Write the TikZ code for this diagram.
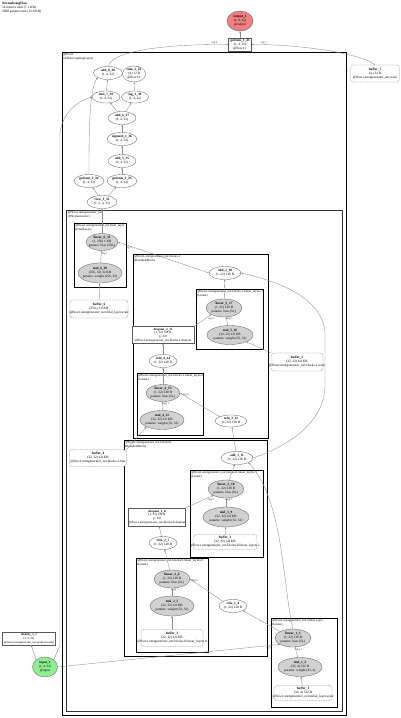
\documentclass[tikz,border=0pt]{standalone}
\usepackage{fontspec}
\setmainfont{Liberation Serif}
\usetikzlibrary{shapes.geometric,arrows.meta}
\newcommand\zl[1]{\makebox[0pt]{#1}}
\newcommand\ttwo[2]{\zl{\textbf{#1}}\\\zl{#2}}
\newcommand\tthree[3]{\zl{\textbf{#1}}\\\zl{#2}\\\zl{#3}}
\newcommand\tfour[4]{\zl{\textbf{#1}}\\\zl{#2}\\\zl{#3}\\\zl{#4}}
\tikzset{
 nf/.style={font=\fontsize{3.4}{4.1}\selectfont},
 base/.style={nf, inner sep=0pt, outer sep=0pt, align=center},
 sz/.style 2 args={minimum width=#1pt, minimum height=#2pt},
 op/.style={base, ellipse, draw=black!65, line width=0.3pt, fill=white},
 opp/.style={op, fill=black!18},
 rbox/.style={base, rectangle, draw=black!65, line width=0.3pt, fill=white},
 bufn/.style={base, rectangle, rounded corners=3pt, draw=black!55, line width=0.3pt, dash pattern=on 1pt off 0.7pt, fill=white},
 edge/.style={draw=black!45, line width=0.35pt, -{Stealth[length=2.2pt,width=1.8pt]}},
 elab/.style={font=\fontsize{2.8}{3}\selectfont, inner sep=0.5pt, text=black!80},
 clus/.style={draw=black, line width=0.6pt},
 clab/.style={anchor=north west, align=left, inner sep=0.6pt, font=\fontsize{3.2}{3.7}\selectfont},
}
\begin{document}
\begin{tikzpicture}[x=1pt,y=-1pt]
\fill[white] (0,0) rectangle (400,718);
\useasboundingbox (0,0) rectangle (400,718);

% header
\node[anchor=north west, align=left, inner sep=0pt, font=\fontsize{3.4}{4}\selectfont] (hdr) at (2,2)
 {\textbf{NormalizingFlow}\\32 tensors total (7.1 KB)\\3068 params total (12.9 KB)};

% clusters
\draw[clus, line width=1pt] (62,52) rectangle (346,715);
\node[clab] (cflow) at (62.5,52.5) {@flow1\\(AffineCouplingLayer)};
\draw[clus, line width=0.8pt, draw=black!80] (66.5,210) rectangle (342,711);
\node[clab] (cunet) at (67,210.5) {@flow1.unetgenerator\_net\\(UNetGenerator)};
\draw[clus] (74,223) rectangle (126,287);
\node[clab] (cfin) at (74.5,223.5) {@flow1.unetgenerator\_net.final\_layer\\(FinalLayer)};
\draw[clus] (133,254) rectangle (268,438);
\node[clab] (cb1) at (133.5,254.5) {@flow1.unetgenerator\_net.blocks.1\\(ResidualBlock)};
\draw[clus] (196,289) rectangle (263,349);
\node[clab] (cb1l1) at (196.5,289.5) {@flow1.unetgenerator\_net.blocks.1.linear\_layers.1\\(Linear)};
\draw[clus] (137,373) rectangle (203,435);
\node[clab] (cb1l0) at (137.5,373.5) {@flow1.unetgenerator\_net.blocks.1.linear\_layers.0\\(Linear)};
\draw[clus] (124,440) rectangle (267,656);
\node[clab] (cb0) at (124.5,440.5) {@flow1.unetgenerator\_net.blocks.0\\(ResidualBlock)};
\draw[clus] (190,470) rectangle (263,557);
\node[clab] (cb0l1) at (190.5,470.5) {@flow1.unetgenerator\_net.blocks.0.linear\_layers.1\\(Linear)};
\draw[clus] (136,558) rectangle (208,652);
\node[clab] (cb0l0) at (136.5,558.5) {@flow1.unetgenerator\_net.blocks.0.linear\_layers.0\\(Linear)};
\draw[clus] (271,618) rectangle (337,707);
\node[clab] (cinit) at (271.5,618.5) {@flow1.unetgenerator\_net.initial\_layer\\(Linear)};

% nodes top
\node[op, fill={rgb,255:red,240;green,128;blue,128}, sz={26}{20}] (out1) at (240,21) {\tthree{output\_1}{(1, 4, 32)}{@output}};
\node[rbox, sz={23}{13}] (gi143) at (240,44.5) {\tthree{getitem\_1\_43}{(1, 4, 32)}{@flow1:1}};
\node[bufn, sz={49}{17}] (buf7) at (375,73.5) {\tthree{buffer\_7}{(4,) 32 B}{@flow1.unetgenerator\_net.scale}};

\node[op, sz={29}{13}] (add838) at (108,73) {\ttwo{add\_8\_38}{(1, 4, 32)}};
\node[op, sz={23}{16}] (sum122) at (134,74) {\tthree{sum\_1\_22}{(4,) 12 B}{@flow1:1}};
\node[op, sz={28}{12}] (mul729) at (106,97) {\ttwo{mul\_7\_29}{(1, 4, 32)}};
\node[op, sz={27}{12}] (log130) at (135,97) {\ttwo{log\_1\_30}{(1, 4, 32)}};
\node[op, sz={28}{13}] (add637) at (122,118) {\ttwo{add\_6\_37}{(1, 4, 32)}};
\node[op, sz={30}{13}] (sig136) at (122,139) {\ttwo{sigmoid\_1\_36}{(1, 4, 32)}};
\node[op, sz={28}{13}] (add535) at (122,161) {\ttwo{add\_5\_35}{(1, 4, 32)}};
\node[op, sz={30}{13}] (gi234) at (89,181) {\ttwo{getitem\_2\_34}{(1, 4, 32)}};
\node[op, sz={30}{13}] (gi133) at (122,181) {\ttwo{getitem\_1\_33}{(1, 4, 32)}};
\node[op, sz={30}{13}] (view132) at (102,202) {\ttwo{view\_1\_32}{(1, 2, 4, 32)}};

% final layer
\node[opp, sz={32}{17}] (lin631) at (102,242) {\tthree{linear\_6\_31}{(1, 256) 1 KB}{params: bias (256,)}};
\node[opp, sz={44}{20}] (mul630) at (100,273) {\tthree{mul\_6\_30}{(256, 32) 32 KB}{params: weight (256, 32)}};
\node[bufn, sz={58}{18}] (buf6) at (99,309) {\tthree{buffer\_6}{(256,) 1.0 KB}{@flow1.unetgenerator\_net.final\_layer.scale}};

% block 1
\node[op, sz={32}{13}] (add218) at (225,273) {\ttwo{add\_2\_18}{(1, 32) 128 B}};
\node[opp, sz={36}{18}] (lin517) at (224,308) {\tthree{linear\_5\_17}{(1, 32) 128 B}{params: bias (32,)}};
\node[opp, sz={46}{19}] (mul516) at (230,335) {\tthree{mul\_5\_16}{(32, 32) 4.0 KB}{params: weight (32, 32)}};
\node[rbox, sz={62}{17}, font=\fontsize{3.2}{3.8}\selectfont] (drop215) at (163,335) {\tfour{dropout\_2\_15}{(1, 32) 128 B}{p: 0.0}{@flow1.unetgenerator\_net.blocks.1.dropout}};
\node[op, sz={28}{13}] (relu414) at (163,361) {\ttwo{relu\_4\_14}{(1, 32) 128 B}};
\node[bufn, sz={52}{18}] (buf5) at (297,362) {\tthree{buffer\_5}{(32, 32) 4.0 KB}{@flow1.unetgenerator\_net.blocks.1.scale}};
\node[opp, sz={34}{17}] (lin413) at (163,393) {\tthree{linear\_4\_13}{(1, 32) 128 B}{params: bias (32,)}};
\node[opp, sz={44}{19}] (mul412) at (162,420) {\tthree{mul\_4\_12}{(32, 32) 4.0 KB}{params: weight (32, 32)}};
\node[op, sz={32}{12}] (relu312) at (231,421) {\ttwo{relu\_3\_12}{(1, 32) 128 B}};
\node[bufn, sz={57}{17}] (buf4) at (98,458) {\tthree{buffer\_4}{(32, 32) 4.0 KB}{@flow1.unetgenerator\_net.blocks.1.bias}};

% block 0
\node[op, sz={32}{13}] (add111) at (237,458) {\ttwo{add\_1\_11}{(1, 32) 128 B}};
\node[opp, sz={36}{18}] (lin310) at (226,489) {\tthree{linear\_3\_10}{(1, 32) 128 B}{params: bias (32,)}};
\node[opp, sz={46}{20}] (mul39) at (226,517) {\tthree{mul\_3\_9}{(32, 32) 4.0 KB}{params: weight (32, 32)}};
\node[bufn, sz={64}{15}] (buf3) at (225,542) {\tthree{buffer\_3}{(32, 32) 4.0 KB}{@flow1.unetgenerator\_net.blocks.0.linear\_layers.1}};
\node[rbox, sz={57}{18}, font=\fontsize{3.2}{3.8}\selectfont] (drop18) at (157,517) {\tfour{dropout\_1\_8}{(1, 32) 128 B}{p: 0.0}{@flow1.unetgenerator\_net.blocks.0.dropout}};
\node[op, sz={28}{13}] (relu27) at (163,543) {\ttwo{relu\_2\_7}{(1, 32) 128 B}};
\node[opp, sz={36}{18}] (lin26) at (172,579) {\tthree{linear\_2\_6}{(1, 32) 128 B}{params: bias (32,)}};
\node[opp, sz={44}{20}] (mul25) at (172,606) {\tthree{mul\_2\_5}{(32, 32) 4.0 KB}{params: weight (32, 32)}};
\node[bufn, sz={62}{17}] (buf2) at (172,638) {\tthree{buffer\_2}{(32, 32) 4.0 KB}{@flow1.unetgenerator\_net.blocks.0.linear\_layers.0}};
\node[op, sz={28}{13}] (relu14) at (233,606) {\ttwo{relu\_1\_4}{(1, 32) 128 B}};

% initial layer
\node[opp, sz={36}{18}] (lin13) at (293,638) {\tthree{linear\_1\_3}{(1, 32) 128 B}{params: bias (32,)}};
\node[opp, sz={44}{19}] (mul12) at (300,667) {\tthree{mul\_1\_2}{(32, 4) 512 B}{params: weight (32, 4)}};
\node[bufn, sz={58}{15}] (buf1) at (303,693) {\tthree{buffer\_1}{(32, 4) 512 B}{@flow1.unetgenerator\_net.initial\_layer.scale}};

% input side
\node[rbox, sz={53}{13}, font=\fontsize{3}{3.9}\selectfont] (id11) at (29,638.5) {\tthree{identity\_1\_1}{(1, 4, 32)}{@flow1.unetgenerator\_net.preprocessing}};
\node[op, fill={rgb,255:red,144;green,238;blue,144}, sz={25}{20}] (in1) at (45,667) {\tthree{input\_1}{(1, 4, 32)}{@input}};

% edges
\draw[edge] (gi143) -- (out1);
\draw[edge] (add838.north) .. controls (112,50) and (170,44) .. (gi143.west) node[elab, pos=0.92, above] {arg 0};
\draw[edge] (buf7.north) .. controls (360,52) and (290,44) .. (gi143.east) node[elab, pos=0.9, above] {arg 1};
\draw[edge] (mul729) -- (add838);
\draw[edge] (gi234.north) .. controls (89,120) and (90,88) .. (add838.south west);
\draw[edge] (add637) -- (mul729);
\draw[edge] (add637) -- (log130);
\draw[edge] (log130) -- (sum122);
\draw[edge] (sig136) -- (add637);
\draw[edge] (add535) -- (sig136);
\draw[edge] (gi133) -- (add535);
\draw[edge] (view132) -- (gi234);
\draw[edge] (view132) -- (gi133);
\draw[edge] (lin631) -- (view132);
\draw[edge] (mul630) -- (lin631) node[elab, pos=0.75, right] {arg 1};
\draw[edge] (buf6) -- (mul630);
\draw[edge] (add218.west) -- (lin631.east) node[elab, pos=0.88, below] {arg 0};

\draw[edge] (lin517) -- (add218);
\draw[edge] (mul516) -- (lin517) node[elab, pos=0.75, right] {arg 1};
\draw[edge] (buf5.north west) -- (mul516.south east);
\draw[edge] (drop215.north east) -- (lin517.south west) node[elab, pos=0.8, below right] {arg 0};
\draw[edge] (relu414) -- (drop215);
\draw[edge] (lin413) -- (relu414);
\draw[edge] (mul412) -- (lin413) node[elab, pos=0.75, right] {arg 1};
\draw[edge] (buf4.north east) -- (mul412.south west);
\draw[edge] (relu312.north west) -- (lin413.east) node[elab, pos=0.85, above] {arg 0};
\draw[edge] (add111) -- (relu312);
\draw[edge] (add111.east) .. controls (292,445) and (325,420) .. (325,385) -- (325,335) .. controls (325,300) and (282,282) .. (add218.east);

\draw[edge] (lin310) -- (add111);
\draw[edge] (mul39) -- (lin310) node[elab, pos=0.75, right] {arg 1};
\draw[edge] (buf3) -- (mul39);
\draw[edge] (drop18.north east) -- (lin310.south west) node[elab, pos=0.8, below right] {arg 0};
\draw[edge] (relu27) -- (drop18);
\draw[edge] (lin26) -- (relu27);
\draw[edge] (mul25) -- (lin26) node[elab, pos=0.75, right] {arg 1};
\draw[edge] (buf2) -- (mul25);
\draw[edge] (relu14.north west) -- (lin26.east) node[elab, pos=0.85, above] {arg 0};
\draw[edge] (lin13.north west) -- (relu14.south east);
\draw[edge] (lin13.north) .. controls (283,590) and (284,500) .. (add111.south east);
\draw[edge] (mul12) -- (lin13) node[elab, pos=0.75, right] {arg 1};
\draw[edge] (buf1) -- (mul12);
\draw[edge] (in1.east) -- (lin13.south west) node[elab, pos=0.95, below] {arg 0};
\draw[edge] (in1.north west) -- (id11);
\draw[edge] (in1.north east) -- (60,645) -- (60,135) .. controls (61,112) and (80,100) .. (mul729.west);
\end{tikzpicture}
\end{document}
